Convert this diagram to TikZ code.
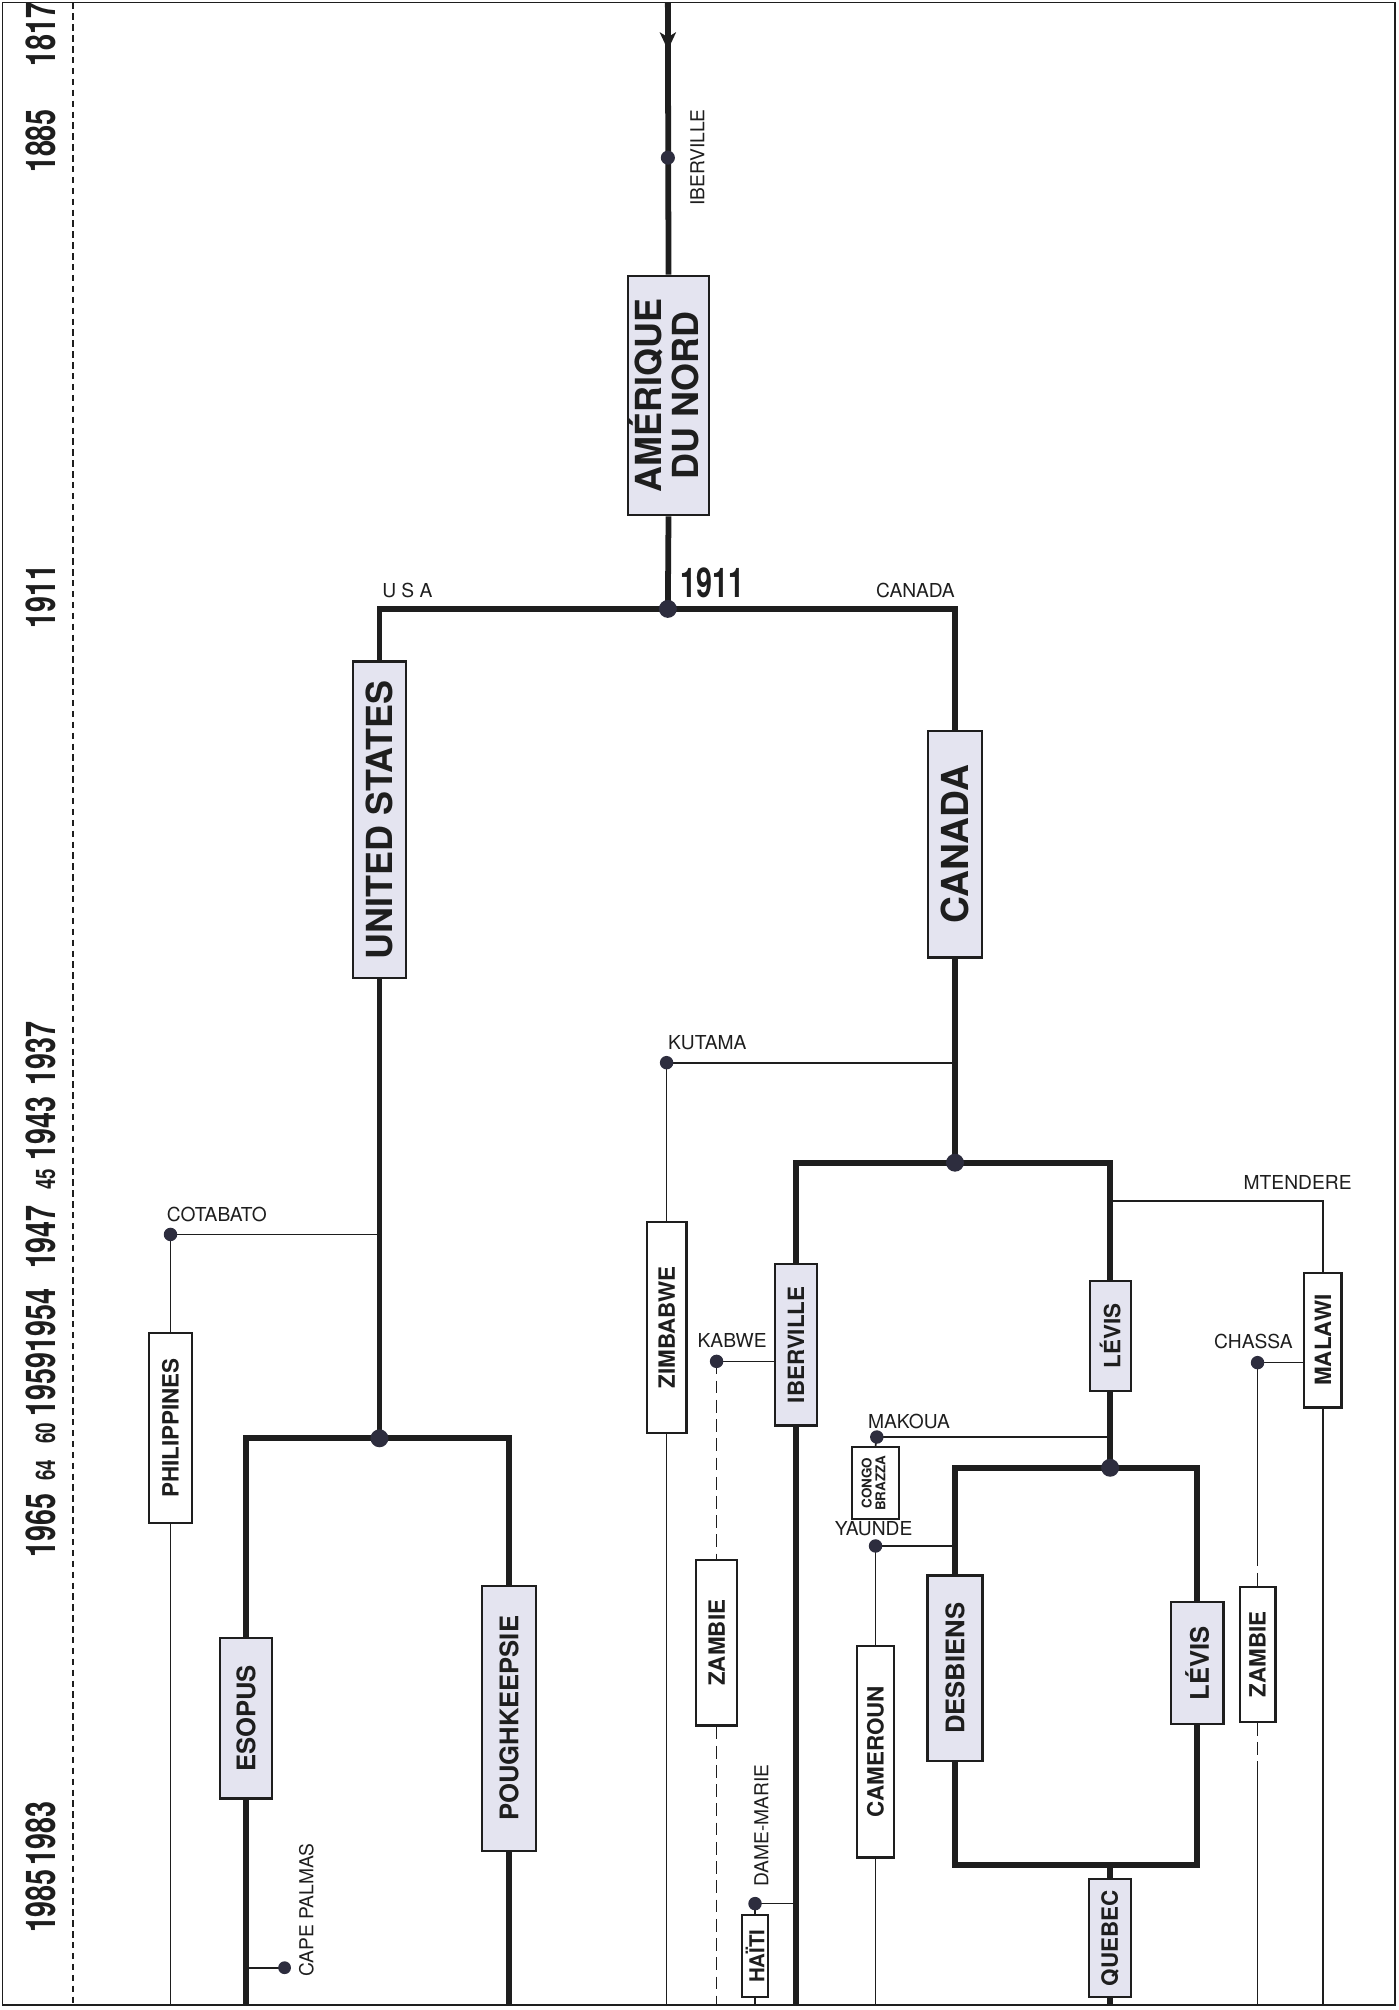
\documentclass[tikz,border=0pt]{standalone}
\usepackage{fontspec}
\usepackage{graphicx}
\setmainfont{TeX Gyre Heros}
\newfontfamily\yearfont[FakeStretch=0.7]{TeX Gyre Heros}
\usetikzlibrary{calc,backgrounds}
\definecolor{boxfill}{RGB}{228,228,240}
\definecolor{ink}{RGB}{30,30,30}
\definecolor{dotc}{RGB}{45,45,62}
\newcommand\vtxt[2]{\rotatebox{90}{\fontsize{#1}{#1}\selectfont\bfseries #2}}
\tikzset{
 thickl/.style={draw=ink, line width=4.5pt, line join=miter},
 thinl/.style={draw=ink, line width=1.3pt},
 dashl/.style={draw=ink, line width=1.4pt, dash pattern=on 10pt off 5pt},
 boxbase/.style={draw=ink, line width=1.7pt, inner sep=0pt, text=ink},
 lbox/.style={boxbase, fill=boxfill},
 wbox/.style={boxbase, fill=white},
 lab/.style={font=\fontsize{15}{15}\selectfont, inner sep=0pt, text=ink},
 bigdot/.style={circle, fill=dotc, inner sep=0pt, minimum size=14pt},
 smalldot/.style={circle, fill=dotc, inner sep=0pt, minimum size=10.5pt},
 yr/.style={inner sep=0pt, text=ink, font=\yearfont\bfseries\fontsize{32}{32}\selectfont, rotate=90, anchor=base},
 yrs/.style={inner sep=0pt, text=ink, font=\yearfont\bfseries\fontsize{21}{21}\selectfont, rotate=90, anchor=base},
}
\begin{document}
\begin{tikzpicture}[x=1pt,y=-1pt]
\useasboundingbox (0,0) rectangle (1091,1568);
\coordinate (bot) at (0,1564);
\coordinate (top) at (521,2);

% years
\node[yr] (y1817) at (43,27) {1817};
\node[yr] (y1885) at (43,110) {1885};
\node[yr] (y1911) at (43,465) {1911};
\node[yr] (y1937) at (43,822) {1937};
\node[yr] (y1943) at (43,880) {1943};
\node[yrs] (y45) at (43,920) {45};
\node[yr] (y1947) at (43,965) {1947};
\node[yr] (y1954) at (43,1030) {1954};
\node[yr] (y1959) at (43,1080) {1959};
\node[yrs] (y60) at (43,1118) {60};
\node[yrs] (y64) at (43,1147) {64};
\node[yr] (y1965) at (43,1190) {1965};
\node[yr] (y1983) at (43,1430) {1983};
\node[yr] (y1985) at (43,1483) {1985};

% trunk
\node[smalldot, minimum size=11pt] (ibd) at (521,123) {};
\node[lab, rotate=90] (iblab) at (544,123) {IBERVILLE};
\node[lbox, minimum width=61pt, minimum height=187pt] (ameri) at (521.5,308.5)
  {\rotatebox{90}{\fontsize{28}{27}\selectfont\bfseries\begin{tabular}{@{}c@{}}AMÉRIQUE\\DU NORD\end{tabular}}};
\node[bigdot] (s1911) at (521,475) {};
\node[inner sep=0pt, text=ink, font=\yearfont\bfseries\fontsize{32}{32}\selectfont, anchor=base west] (l1911) at (531,466) {1911};
\node[lab, anchor=base west] (lusa) at (298,466) {U S A};
\node[lab, anchor=base east] (lcan) at (745,466) {CANADA};

% USA
\node[lbox, minimum width=41pt, minimum height=247pt] (us) at (296,639.5) {\vtxt{28}{UNITED STATES}};
\node[bigdot] (sUS) at (296,1122) {};
\node[smalldot] (cot) at (133,963) {};
\node[lab, anchor=base west] (cotlab) at (130,953) {COTABATO};
\node[wbox, minimum width=33pt, minimum height=148pt] (ph) at (133,1114) {\vtxt{17.5}{PHILIPPINES}};
\node[lbox, minimum width=41pt, minimum height=125pt] (es) at (192,1340.5) {\vtxt{20}{ESOPUS}};
\node[lbox, minimum width=42pt, minimum height=207pt] (pk) at (397,1340.5) {\vtxt{20}{POUGHKEEPSIE}};
\node[smalldot, minimum size=10pt] (cp) at (222,1535) {};
\node[lab, rotate=90] (cplab) at (239,1490) {CAPE PALMAS};

% Canada
\node[lbox, minimum width=42pt, minimum height=177pt] (ca) at (745,658.5) {\vtxt{29}{CANADA}};
\node[bigdot] (sCA) at (745,907) {};
\node[smalldot] (kut) at (520,829) {};
\node[lab, anchor=base west] (kutlab) at (521,819) {KUTAMA};
\node[wbox, minimum width=31pt, minimum height=165pt] (zi) at (520,1035.5) {\vtxt{17.5}{ZIMBABWE}};
\node[lbox, minimum width=33pt, minimum height=126pt] (ib) at (621,1049) {\vtxt{17.5}{IBERVILLE}};
\node[smalldot] (kab) at (559,1062) {};
\node[lab, anchor=base west] (kablab) at (544,1051) {KABWE};
\node[wbox, minimum width=32pt, minimum height=129pt] (za1) at (559,1281.5) {\vtxt{17.5}{ZAMBIE}};
\node[smalldot] (dm) at (589,1485) {};
\node[lab, rotate=90] (dmlab) at (594,1424) {DAME-MARIE};
\node[wbox, minimum width=20pt, minimum height=64pt] (ht) at (589,1526) {\vtxt{16}{HAÏTI}};

\node[lbox, minimum width=32pt, minimum height=86pt] (lv1) at (866,1042) {\vtxt{17.5}{LÉVIS}};
\coordinate (mtc) at (866,937);
\node[lab, anchor=base west] (mtlab) at (970,928) {MTENDERE};
\node[wbox, minimum width=29pt, minimum height=105pt] (mw) at (1032,1045.5) {\vtxt{17.5}{MALAWI}};
\node[smalldot] (ch) at (981,1063) {};
\node[lab, anchor=base west] (chlab) at (947,1052) {CHASSA};
\node[wbox, minimum width=28pt, minimum height=105pt] (za2) at (981,1290.5) {\vtxt{17.5}{ZAMBIE}};
\coordinate (chd) at (981,1212);
\coordinate (chd2) at (981,1384);

\node[smalldot] (mak) at (684,1121) {};
\node[lab, anchor=base west] (maklab) at (677,1114) {MAKOUA};
\node[wbox, minimum width=37pt, minimum height=56pt] (cg) at (683,1157)
  {\rotatebox{90}{\fontsize{10.5}{10.5}\selectfont\bfseries\begin{tabular}{@{}c@{}}CONGO\\BRAZZA\end{tabular}}};
\node[bigdot] (sLV) at (866,1145) {};
\node[smalldot] (yau) at (683,1206) {};
\node[lab, anchor=base west] (yaulab) at (651,1198) {YAUNDE};
\node[wbox, minimum width=29pt, minimum height=165pt] (cm) at (683,1366.5) {\vtxt{17.5}{CAMEROUN}};
\node[lbox, minimum width=43pt, minimum height=145pt] (de) at (745,1301.5) {\vtxt{20}{DESBIENS}};
\node[lbox, minimum width=41pt, minimum height=95pt] (lv2) at (934,1297.5) {\vtxt{20}{LÉVIS}};
\coordinate (qtop) at (866,1455);
\node[lbox, minimum width=33pt, minimum height=92pt] (qc) at (866,1512) {\vtxt{17.5}{QUEBEC}};

\begin{scope}[on background layer]
% frame
\draw[ink, line width=1.3pt] (2,2) rectangle (1088,1564);
\draw[ink, line width=1pt, dash pattern=on 5pt off 3.5pt] (57,2) -- (57,1564);
% trunk
\draw[thickl] (top) -- (ameri.north);
\fill[ink] ($(top)+(-6.5,23)$) -- ($(top)+(0,37)$) -- ($(top)+(6.5,23)$) -- ($(top)+(0,27)$) -- cycle;
\draw[thickl] (ameri.south) -- (s1911.center);
\draw[thickl] (us.north) |- (s1911.center) -| (ca.north);
% USA
\draw[thickl] (us.south) -- (sUS.center);
\draw[thinl] (cot.center) -- (cot -| sUS);
\draw[thinl] (cot.center) -- (ph.north);
\draw[thinl] (ph.south) -- (ph.south |- bot);
\draw[thickl] (es.north) |- (sUS.center) -| (pk.north);
\draw[thickl] (es.south) -- (es.south |- bot);
\draw[thickl] (pk.south) -- (pk.south |- bot);
\draw[thinl] (cp.center) -- (cp -| es.south);
% Canada
\draw[thickl] (ca.south) -- (sCA.center);
\draw[thinl] (kut.center) -- (kut -| ca.south);
\draw[thinl] (kut.center) -- (zi.north);
\draw[thinl] (zi.south) -- (zi.south |- bot);
\draw[thickl] (ib.north) |- (sCA.center) -| (lv1.north);
\draw[thickl] (ib.south) -- (ib.south |- bot);
\draw[thinl] (kab.center) -- (kab -| ib.west);
\draw[dashl] (kab.center) -- (za1.north);
\draw[dashl] (za1.south) -- (za1.south |- bot);
\draw[thinl] (dm.center) -- (dm -| ib.south);
\draw[thinl] (dm.center) -- (ht.north);
\draw[thinl] (ht.south) -- (ht.south |- bot);
\draw[thinl] (mtc) -| (mw.north);
\draw[thinl] (mw.south) -- (mw.south |- bot);
\draw[thinl] (ch.center) -- (ch -| mw.west);
\draw[thinl] (ch.center) -- (chd);
\draw[dashl] (chd) -- (za2.north);
\draw[dashl] (za2.south) -- (chd2);
\draw[thinl] (chd2) -- (chd2 |- bot);
\draw[thickl] (lv1.south) -- (sLV.center);
\draw[thinl] (mak.center) -- (mak -| sLV);
\draw[thinl] (mak.center) -- (cg.north);
\draw[thickl] (de.north) |- (sLV.center) -| (lv2.north);
\draw[thinl] (yau.center) -- (yau -| de.north);
\draw[thinl] (yau.center) -- (cm.north);
\draw[thinl] (cm.south) -- (cm.south |- bot);
\draw[thickl] (de.south) |- (qtop) -| (lv2.south);
\draw[thickl] (qtop) -- (qc.north);
\draw[thickl] (qc.south) -- (qc.south |- bot);
\end{scope}
\end{tikzpicture}
\end{document}
